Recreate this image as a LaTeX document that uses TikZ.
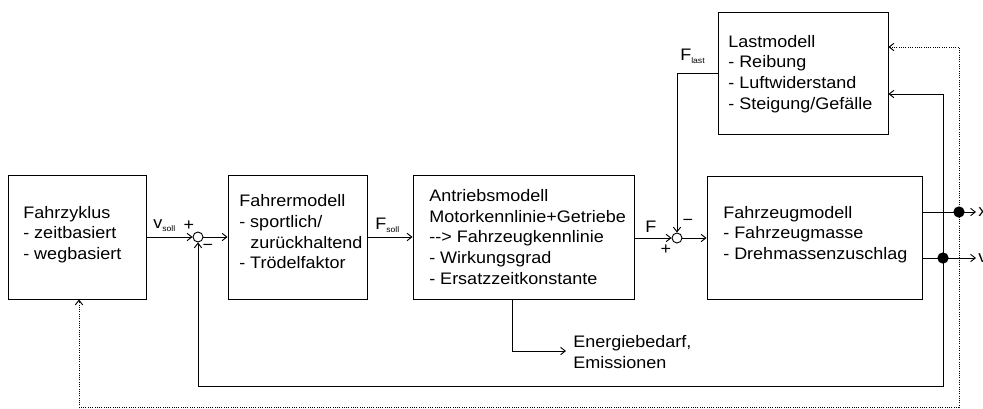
\documentclass[tikz,border=0pt]{standalone}
\usepackage{fontspec}
\setmainfont{Liberation Sans}[FakeStretch=1.08]
\usetikzlibrary{arrows.meta}
\newcommand\sbs[1]{\raisebox{-0.35ex}{\fontsize{6pt}{6pt}\selectfont #1}}
\begin{document}
\begin{tikzpicture}[x=0.75pt,y=-0.75pt,
  font=\fontsize{12.5pt}{15.5pt}\selectfont,
  blk/.style={draw, line width=0.7pt, inner sep=0pt},
  txt/.style={align=left, inner sep=0pt, anchor=west},
  lbl/.style={inner sep=0pt, anchor=base west},
  sgn/.style={inner sep=0pt},
  sumc/.style={draw, circle, line width=0.7pt, minimum size=7.5pt, inner sep=0pt},
  jdot/.style={fill, circle, minimum size=8.5pt, inner sep=0pt},
  conn/.style={draw, line width=0.7pt, -{Straight Barb[length=3.5pt,width=5.5pt]}},
  dconn/.style={conn, densely dotted},
  plain/.style={draw, line width=0.7pt}]
\useasboundingbox (0,0) rectangle (983,408);

% boxes
\node[blk, minimum width=103.5pt, minimum height=93pt] (fz) at (77,237) {};
\node[blk, minimum width=104.25pt, minimum height=93pt] (fm) at (297.5,237) {};
\node[blk, minimum width=165.75pt, minimum height=93pt] (am) at (523.5,237) {};
\node[blk, minimum width=161.25pt, minimum height=92.25pt] (fzm) at (814.5,237.5) {};
\node[blk, minimum width=127.5pt, minimum height=91.5pt] (lm) at (803,73) {};

% box texts
\node[txt] (fzt) at (23,234.4) {Fahrzyklus\\- zeitbasiert\\- wegbasiert};
\node[txt] (fmt) at (239,232) {Fahrermodell\\- sportlich/\\\phantom{- }zurückhaltend\\- Trödelfaktor};
\node[txt] (amt) at (429,237) {Antriebsmodell\\Motorkennlinie+Getriebe\\-{}-{}> Fahrzeugkennlinie\\- Wirkungsgrad\\- Ersatzzeitkonstante};
\node[txt] (fzmt) at (723,234.5) {Fahrzeugmodell\\- Fahrzeugmasse\\- Drehmassenzuschlag};
\node[txt] (lmt) at (728,74) {Lastmodell\\- Reibung\\- Luftwiderstand\\- Steigung/Gefälle};

% summing points
\node[sumc] (s1) at (198,237) {};
\node[sumc] (s2) at (677,238) {};
\node[sgn] (p1) at (189,226) {+};
\node[sgn] (m1) at (208,247) {−};
\node[sgn] (m2) at (688,222) {−};
\node[sgn] (p2) at (666,250) {+};

% junction dots and coordinates
\node[jdot] (dx) at (959,212) {};
\node[jdot] (dv) at (943,258) {};
\coordinate (xo) at (976,212);
\coordinate (vo) at (976,258);
\coordinate (fb) at (0,386);
\coordinate (db) at (0,407);
\coordinate (lmv) at (0,94);
\coordinate (lmx) at (0,47);
\coordinate (ebe) at (566,351);
\coordinate (dlx) at (79,0);

% labels
\node[lbl] (vsl) at (153,228) {v\sbs{soll}};
\node[lbl] (fsl) at (375,229) {F\sbs{soll}};
\node[lbl] (fl) at (645,232) {F};
\node[lbl] (fll) at (680,60) {F\sbs{last}};
\node[lbl] (xl) at (978,216) {x};
\node[lbl] (vl) at (978,262) {v};
\node[txt] (ebt) at (573,352) {Energiebedarf,\\Emissionen};

% forward path
\draw[conn] (fz.east |- s1) -- (s1.west);
\draw[conn] (s1.east) -- (fm.west |- s1);
\draw[conn] (fm.east) -- (am.west);
\draw[conn] (am.east |- s2) -- (s2.west);
\draw[conn] (s2.east) -- (fzm.west |- s2);
\draw[conn] (lm.west) -| (s2.north);

% outputs
\draw[conn] (fzm.east |- dx) -- (xo);
\draw[conn] (fzm.east |- dv) -- (vo);

% feedbacks
\draw[conn] (dv.center) -- (dv.center |- lmv) -- (lm.east |- lmv);
\draw[conn] (dv.center) -- (dv.center |- fb) -| (s1.south);
\draw[dconn] (dx.center) -- (dx.center |- lmx) -- (lm.east |- lmx);
\draw[dconn] (dx.center) -- (dx.center |- db) -- (dlx |- db) -- (dlx |- fz.south);

% energy output
\draw[conn] (am.south -| 512,0) -- (512,351) -- (ebe);
\end{tikzpicture}
\end{document}
